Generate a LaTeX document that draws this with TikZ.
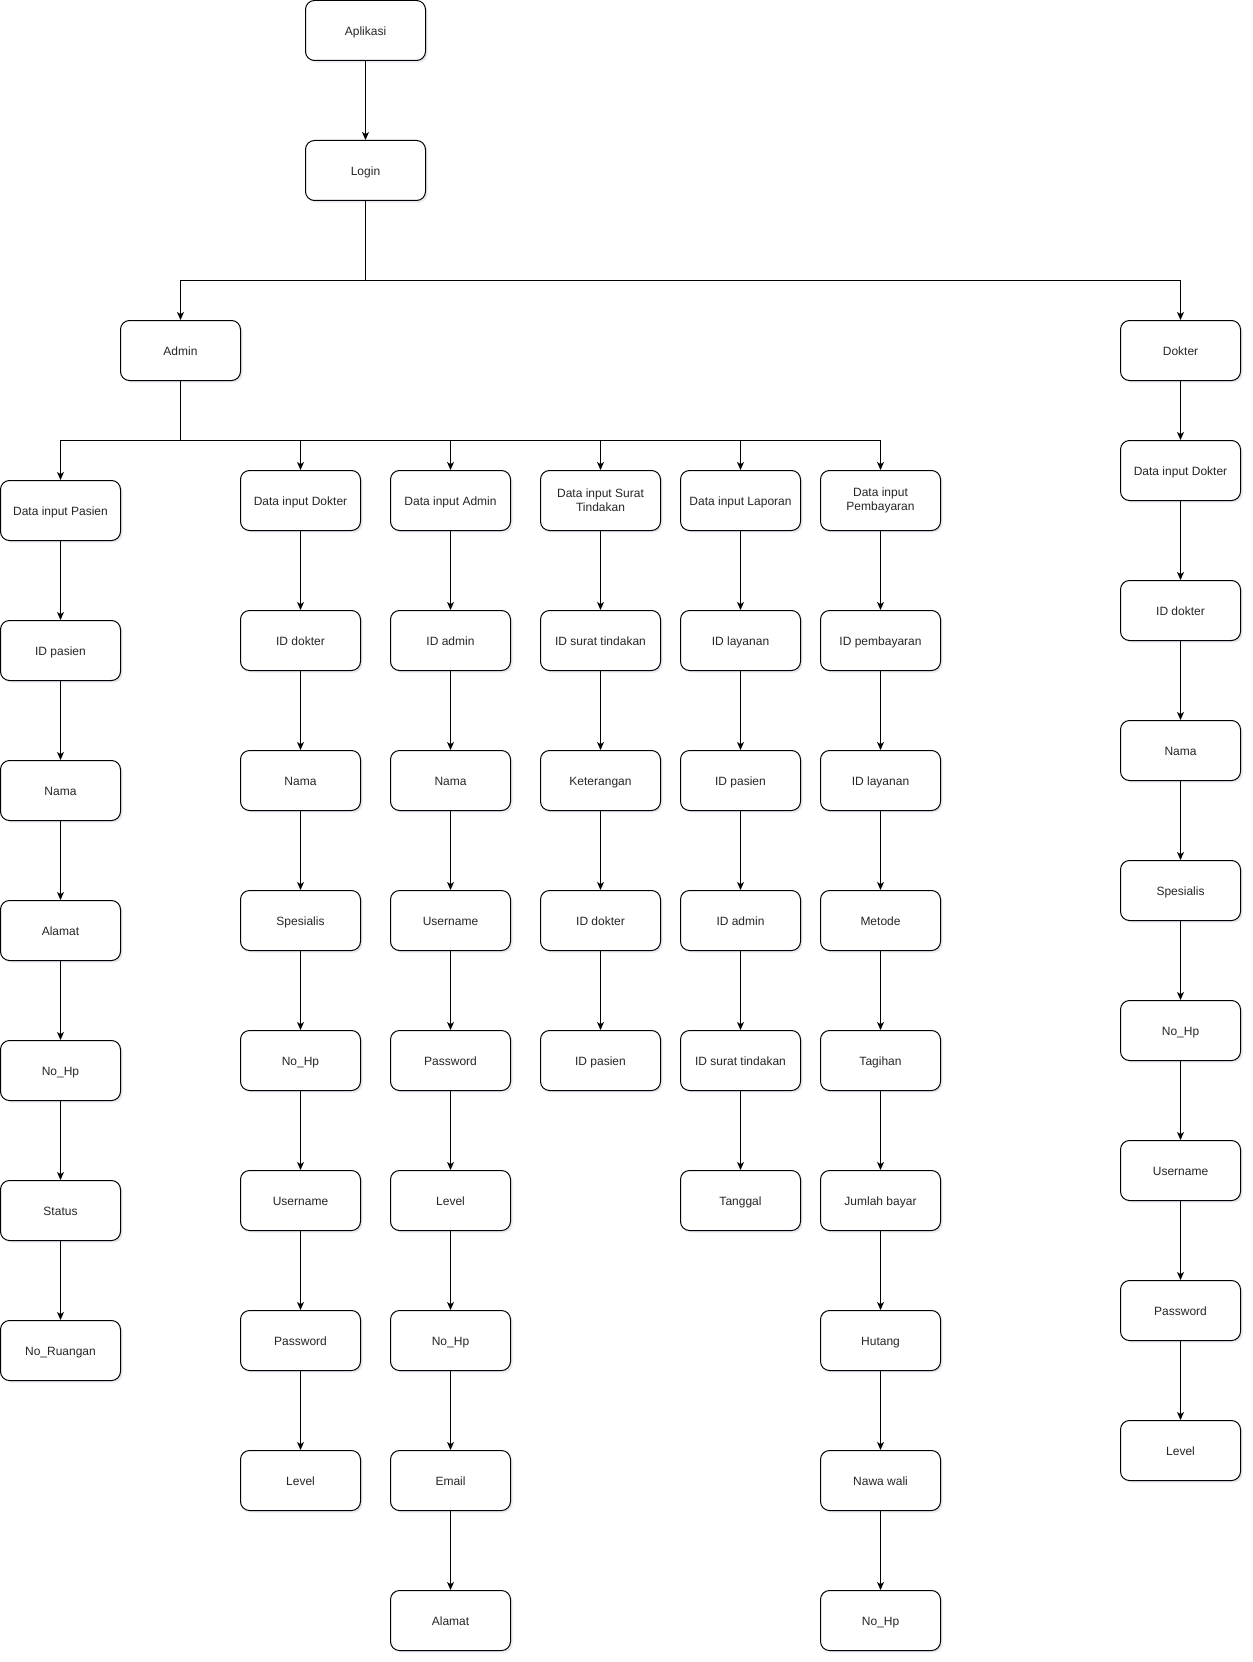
\documentclass[tikz,border=0pt]{standalone}
\usepackage{fontspec}
\setmainfont{Liberation Sans}
\usetikzlibrary{arrows.meta,shadows}
\begin{document}
\begin{tikzpicture}[x=0.75pt,y=-0.75pt,
  box/.style={draw=black, line width=0.75pt, rounded corners=6.75pt, fill=white,
    minimum width=90pt, minimum height=45pt, inner sep=1pt, align=center,
    font=\fontsize{9pt}{10.5pt}\selectfont, text=black!85,
    drop shadow={shadow xshift=1.6pt, shadow yshift=-1.6pt, opacity=0.22, fill=black!60!blue!40}},
  one/.style={box, text height=8.5pt, text depth=1.4pt},
  arr/.style={draw=black, line width=0.75pt, -{Stealth[length=6pt,width=5.2pt,inset=1.6pt]}},
  ln/.style={draw=black, line width=0.75pt}]
\useasboundingbox (0,0) rectangle (1252,1662);
% top
\node[one] (apl) at (365.5,30.5) {Aplikasi};
\node[one] (login) at (365.5,170.5) {Login};
\node[one] (admin) at (180.5,350.5) {Admin};
\node[one] (dokter) at (1180.5,350.5) {Dokter};
\draw[arr] (apl) -- (login);
\coordinate (j1) at (365.5,280.5);
\draw[ln] (login.south) -- (j1);
\draw[arr] (j1) -| (admin.north);
\draw[arr] (j1) -| (dokter.north);
% admin branch
\coordinate (j2) at (180.5,440.5);
\draw[ln] (admin.south) -- (j2);
\node[one] (p0) at (60.5,510.5) {Data input Pasien};
\node[one] (d0) at (300.5,500.5) {Data input Dokter};
\node[one] (a0) at (450.5,500.5) {Data input Admin};
\node[box] (s0) at (600.5,500.5) {Data input Surat\\Tindakan};
\node[one] (l0) at (740.5,500.5) {Data input Laporan};
\node[box] (b0) at (880.5,500.5) {Data input\\Pembayaran};
\foreach \n in {p0,d0,a0,s0,l0,b0} {\draw[arr] (j2) -| (\n.north);}
% dokter branch
\node[one] (k0) at (1180.5,470.5) {Data input Dokter};
\draw[arr] (dokter) -- (k0);
% columns
\foreach \t [count=\i] in {ID pasien,Nama,Alamat,No\_Hp,Status,No\_Ruangan} {
  \pgfmathtruncatemacro\j{\i-1}
  \node[one] (p\i) at (60.5,510.5+140*\i) {\t};
  \draw[arr] (p\j) -- (p\i);
}
\foreach \t [count=\i] in {ID dokter,Nama,Spesialis,No\_Hp,Username,Password,Level} {
  \pgfmathtruncatemacro\j{\i-1}
  \node[one] (d\i) at (300.5,500.5+140*\i) {\t};
  \draw[arr] (d\j) -- (d\i);
}
\foreach \t [count=\i] in {ID admin,Nama,Username,Password,Level,No\_Hp,Email,Alamat} {
  \pgfmathtruncatemacro\j{\i-1}
  \node[one] (a\i) at (450.5,500.5+140*\i) {\t};
  \draw[arr] (a\j) -- (a\i);
}
\foreach \t [count=\i] in {ID surat tindakan,Keterangan,ID dokter,ID pasien} {
  \pgfmathtruncatemacro\j{\i-1}
  \node[one] (s\i) at (600.5,500.5+140*\i) {\t};
  \draw[arr] (s\j) -- (s\i);
}
\foreach \t [count=\i] in {ID layanan,ID pasien,ID admin,ID surat tindakan,Tanggal} {
  \pgfmathtruncatemacro\j{\i-1}
  \node[one] (l\i) at (740.5,500.5+140*\i) {\t};
  \draw[arr] (l\j) -- (l\i);
}
\foreach \t [count=\i] in {ID pembayaran,ID layanan,Metode,Tagihan,Jumlah bayar,Hutang,Nawa wali,No\_Hp} {
  \pgfmathtruncatemacro\j{\i-1}
  \node[one] (b\i) at (880.5,500.5+140*\i) {\t};
  \draw[arr] (b\j) -- (b\i);
}
\foreach \t [count=\i] in {ID dokter,Nama,Spesialis,No\_Hp,Username,Password,Level} {
  \pgfmathtruncatemacro\j{\i-1}
  \node[one] (k\i) at (1180.5,470.5+140*\i) {\t};
  \draw[arr] (k\j) -- (k\i);
}
\end{tikzpicture}
\end{document}
